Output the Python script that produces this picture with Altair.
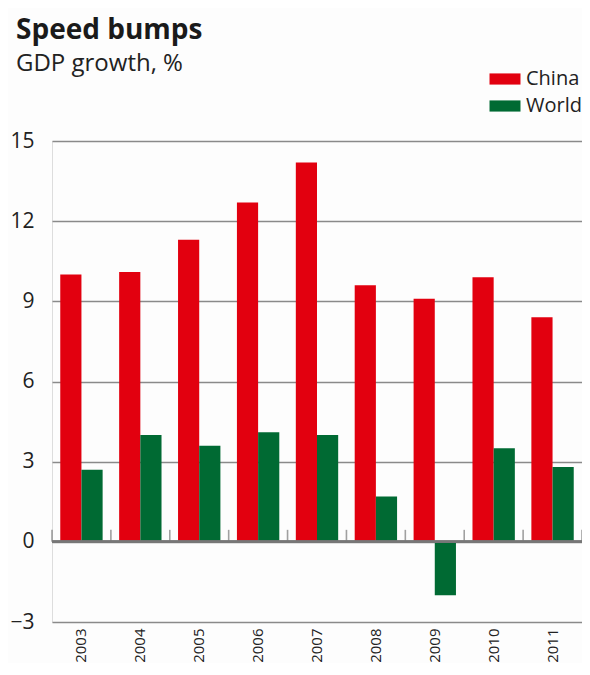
import altair as alt
import pandas as pd

years = ["2003", "2004", "2005", "2006", "2007", "2008", "2009", "2010", "2011"]
china = [10.0, 10.1, 11.3, 12.7, 14.2, 9.6, 9.1, 9.9, 8.4]
world = [2.7, 4.0, 3.6, 4.1, 4.0, 1.7, -2.0, 3.5, 2.8]
series = ["China", "World"]
colors = ["#e2000f", "#006a33"]
y_ticks = [-3, 0, 3, 6, 9, 12, 15]

rows = []
for i, yr in enumerate(years):
    rows.append({"year": yr, "series": "China", "value": china[i]})
    rows.append({"year": yr, "series": "World", "value": world[i]})
df = pd.DataFrame(rows)
yr_df = pd.DataFrame({"year": years})
end_df = pd.DataFrame({"year": years[-1:]})

FONT = "Open Sans, sans-serif"

x_enc = alt.X(
    "year:N",
    sort=years,
    scale=alt.Scale(paddingInner=0, paddingOuter=0),
    axis=alt.Axis(
        title=None, labelAngle=270, labelAlign="right", labelBaseline="middle",
        labelPadding=6, labelFontSize=15, labelColor="#222", labelFont=FONT,
        domain=False, ticks=False, grid=False,
    ),
)

bars = alt.Chart(df).mark_bar().encode(
    x=x_enc,
    xOffset=alt.XOffset("series:N", sort=series, scale=alt.Scale(paddingInner=0, paddingOuter=0.39)),
    y=alt.Y(
        "value:Q",
        scale=alt.Scale(domain=[-3, 15], nice=False),
        axis=alt.Axis(
            title=None, values=y_ticks, labelFontSize=21, labelColor="#222",
            labelFont=FONT, labelPadding=18, domain=False, ticks=False,
            grid=True, gridColor="#8a8a8a", gridWidth=1.6,
        ),
    ),
    color=alt.Color(
        "series:N",
        sort=series,
        scale=alt.Scale(domain=series, range=colors),
        legend=alt.Legend(
            title=None, orient="none", legendX=443, legendY=-72,
            symbolType="M-2,-0.72H2V0.72H-2Z", symbolSize=240,
            symbolStrokeWidth=0, labelFontSize=20, labelFont=FONT,
            labelColor="#222", labelOffset=11, rowPadding=7, padding=0,
        ),
    ),
)

zero = alt.Chart(yr_df).mark_rule(color="#777", strokeWidth=2).encode(
    y=alt.datum(0),
)

ticks = alt.Chart(yr_df).mark_tick(
    orient="vertical", size=12, yOffset=-6, thickness=1.6, color="#777"
).encode(
    x=alt.X("year:N", sort=years, bandPosition=0),
    y=alt.datum(0),
)
end_tick = alt.Chart(end_df).mark_tick(
    orient="vertical", size=12, yOffset=-6, thickness=1.6, color="#777"
).encode(
    x=alt.X("year:N", sort=years, bandPosition=1),
    y=alt.datum(0),
)

chart = (
    alt.layer(bars, zero, ticks, end_tick)
    .properties(
        width=530,
        height=481,
        autosize=alt.AutoSizeParams(type="none"),
        padding={"left": 44, "top": 133, "right": 0, "bottom": 41},
        title=alt.TitleParams(
            text="Speed bumps",
            subtitle="GDP growth, %",
            anchor="start",
            frame="bounds",
            dx=6,
            font=FONT,
            fontSize=28,
            fontWeight="bold",
            color="#1a1a1a",
            subtitleFont=FONT,
            subtitleFontSize=24,
            subtitleColor="#222",
            subtitlePadding=7,
            offset=-7,
        ),
    )
    .configure_view(stroke=None)
    .configure(background="#fdfdfd")
)

chart.save("out.html", embed_options={"renderer": "svg", "actions": False})
